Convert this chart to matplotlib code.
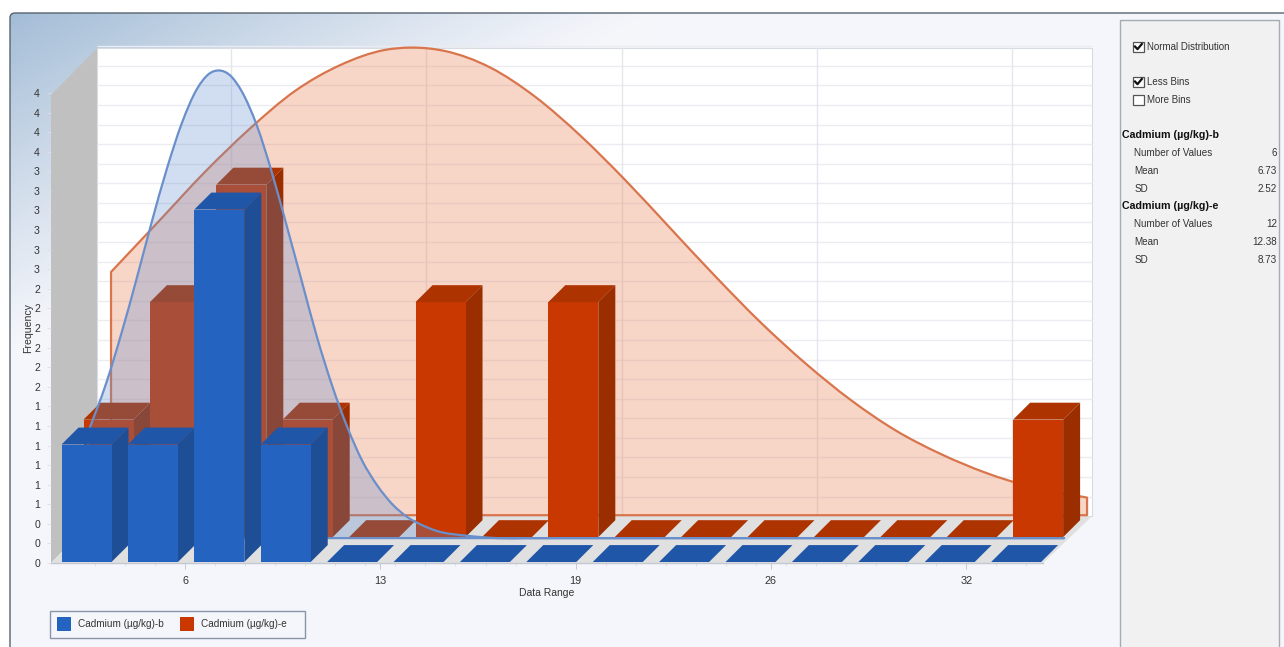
# histogram window with fake 3d bars and normal curves
import numpy as np
import matplotlib
matplotlib.use('Agg')
import matplotlib.pyplot as plt
from matplotlib.patches import Polygon, Rectangle, FancyBboxPatch, Patch, PathPatch
from matplotlib.path import Path

plt.rcParams['font.family'] = ['Liberation Sans', 'DejaVu Sans']

# data
series_names = ['Cadmium (µg/kg)-b', 'Cadmium (µg/kg)-e']
blue_counts = [1, 1, 3, 1, 0, 0, 0, 0, 0, 0, 0, 0, 0, 0, 0]
red_counts = [1, 2, 3, 1, 0, 2, 0, 2, 0, 0, 0, 0, 0, 0, 1]

x_tick_pos = [6.34, 12.84, 19.34, 25.84, 32.34]
x_tick_labels = ['6', '13', '19', '26', '32']
y_tick_labels = ['0', '0', '0', '1', '1', '1', '1', '1', '1', '2', '2', '2', '2', '2', '2',
                 '3', '3', '3', '3', '3', '3', '4', '4', '4', '4']

# normal curves (data range, frequency)
blue_curve_x = [2.38, 3.0, 3.5, 4.0, 4.5, 5.0, 5.5, 6.0, 6.4, 6.73, 7.1, 7.5, 8.0, 8.5, 9.0, 9.5, 10.0,
                10.5, 11.0, 11.5, 12.0, 12.5, 13.0, 13.5, 14.0, 15.0, 16.0, 17.0, 34.86]
blue_curve_y = [0.90, 1.33, 1.75, 2.21, 2.69, 3.14, 3.53, 3.82, 3.95, 3.98, 3.94, 3.80, 3.51, 3.11, 2.65,
                2.18, 1.71, 1.30, 0.95, 0.66, 0.45, 0.29, 0.18, 0.11, 0.06, 0.02, 0.0, 0.0, 0.0]
red_curve_x = [2.38, 4.0, 5.5, 7.0, 8.5, 10.0, 11.5, 12.38, 13.5, 15.0, 16.5, 18.0, 19.5, 21.0, 22.5,
               24.0, 25.5, 27.0, 28.5, 30.0, 31.5, 33.0, 34.86]
red_curve_y = [2.07, 2.51, 2.92, 3.29, 3.61, 3.83, 3.96, 3.98, 3.95, 3.81, 3.56, 3.23, 2.85, 2.44, 2.03,
               1.64, 1.29, 0.98, 0.72, 0.52, 0.36, 0.24, 0.15]

# side panel stats
stats_b = [('Number of Values', '6'), ('Mean', '6.73'), ('SD', '2.52')]
stats_e = [('Number of Values', '12'), ('Mean', '12.38'), ('SD', '8.73')]

# layout, pixels
W, H = 1284, 647
plot_l, plot_r, plot_b, plot_t = 51, 1043, 563, 93
x_per_px = 1 / 30.05
y_per_px = 1 / 118
wall_x, wall_y = 46, 47   # depth of the whole box
bar_depth = 17
bar_w = 50 * x_per_px
bin_w = 66.4 * x_per_px
bin_start = 2.23
x_lo = 1.88
x_hi = x_lo + (plot_r - plot_l) * x_per_px
y_hi = (plot_b - plot_t) * y_per_px

fig = plt.figure(figsize=(W / 100, H / 100), dpi=100, facecolor='white')

# chrome in pixel coords
bg = fig.add_axes([0, 0, 1, 1])
bg.set_xlim(0, W)
bg.set_ylim(H, 0)
bg.axis('off')

frame = FancyBboxPatch((10, 13), W + 40, H + 40, boxstyle='round,pad=0,rounding_size=5',
                       facecolor='none', edgecolor='#56636f', linewidth=1.0, zorder=3)
bg.add_patch(frame)
yy, xx = np.mgrid[0:1:160j, 0:1:320j]
fade = np.clip(xx * 1.0 + yy * 1.0, 0, 1)[..., None]
corner = np.array([0.64, 0.74, 0.84])
end = np.array([0.961, 0.965, 0.984])
grad = corner * (1 - fade) ** 1.1 + end * (1 - (1 - fade) ** 1.1)
im = bg.imshow(grad, extent=(10, 10 + 640, 13 + 340, 13), aspect='auto', zorder=1)
im.set_clip_path(frame)
rest = Rectangle((10, 13), W, H, facecolor='#f5f6fb', edgecolor='none', zorder=0)
bg.add_patch(rest)
rest.set_clip_path(frame)
bg.set_xlim(0, W)
bg.set_ylim(H, 0)

# right hand panel
bg.add_patch(Rectangle((1119.5, 19.5), 159, H, facecolor='#f1f1f2', edgecolor='#a4abb2', linewidth=1, zorder=4))

# legend box, the legend itself goes in it further down
bg.add_patch(Rectangle((50, 610.5), 255, 27, facecolor='#f5f6fb', edgecolor='#8894a8', linewidth=1, zorder=4))


def checkbox(y, label, checked):
    bg.add_patch(Rectangle((1133, y - 5.5), 10.5, 10.5, facecolor='white', edgecolor='#555555', linewidth=0.9, zorder=5))
    if checked:
        bg.plot([1135, 1137.5, 1141.8], [y - 0.5, y + 2.2, y - 3], color='#111111', linewidth=1.6, zorder=6)
    bg.text(1147, y, label, fontsize=7.0, color='#333333', va='center', ha='left', zorder=6)


checkbox(47, 'Normal Distribution', True)
checkbox(82, 'Less Bins', True)
checkbox(100, 'More Bins', False)


def stats_block(y, name, rows):
    bg.text(1122, y, name, fontsize=7.7, fontweight='bold', color='#111111', va='center', zorder=6)
    for i, (lab, val) in enumerate(rows):
        yr = y + 18 + 18 * i
        bg.text(1134.5, yr, lab, fontsize=7.1, color='#333333', va='center', zorder=6)
        bg.text(1277, yr, val, fontsize=7.1, color='#333333', va='center', ha='right', zorder=6)


stats_block(135, series_names[0], stats_b)
stats_block(206, series_names[1], stats_e)

# main chart, front plane of the box
ax = fig.add_axes([plot_l / W, (H - plot_b) / H, (plot_r - plot_l) / W, (plot_b - plot_t) / H])
ax.patch.set_visible(False)
ax.set_xlim(x_lo, x_hi)
ax.set_ylim(0, y_hi)
for s in ax.spines.values():
    s.set_visible(False)
ax.spines['bottom'].set_visible(True)
ax.spines['bottom'].set_color('#c4c8d0')
ax.spines['bottom'].set_linewidth(1.0)

y_ticks = [k / 6 for k in range(len(y_tick_labels))]
ax.set_yticks(y_ticks)
ax.set_yticklabels(y_tick_labels, fontsize=7.6, color='#333333')
ax.tick_params(axis='y', length=3, width=0.6, color='#dcdfe6', pad=5)
ax.set_xticks(x_tick_pos)
ax.set_xticklabels(x_tick_labels, fontsize=7.8, color='#333333')
ax.tick_params(axis='x', length=4, width=0.7, color='#c4c8d0', pad=5)
ax.set_xticks([x_tick_pos[0] + k - 3 for k in range(0, 35)
               if x_lo < x_tick_pos[0] + k - 3 < x_hi], minor=True)
ax.tick_params(axis='x', which='minor', length=2, width=0.5, color='#d4d8de')
ax.set_xlabel('Data Range', fontsize=7.5, color='#333333', labelpad=2)
ax.set_ylabel('Frequency', fontsize=7.6, color='#333333', labelpad=1)


def poly(pts, color, z):
    ax.add_patch(Polygon(pts, closed=True, facecolor=color, edgecolor='none', clip_on=False, zorder=z))


# box: left wall, back wall, floor
wx, wy = wall_x * x_per_px, wall_y * y_per_px
poly([(x_lo, 0), (x_lo + wx, wy), (x_lo + wx, y_hi + wy), (x_lo, y_hi)], '#c0c0c0', 1)
back_r = x_hi + wx + 3 * x_per_px
ax.add_patch(Rectangle((x_lo + wx, wy), back_r - x_lo - wx, y_hi, facecolor='white',
                       edgecolor='#d8dbe2', linewidth=0.8, clip_on=False, zorder=1))
poly([(x_lo, 0), (x_lo + wx, wy), (back_r, wy), (x_hi, 0)], '#e0e0e1', 1.5)
ax.hlines([t + wy for t in y_ticks[1:]], x_lo + wx, back_r, color='#ebecf1', linewidth=1.0,
          clip_on=False, zorder=1.2)
ax.vlines([t + wx for t in x_tick_pos], wy, y_hi + wy, color='#e5e6ec', linewidth=1.0,
          clip_on=False, zorder=1.2)


def smooth_verts(xs, ys):
    # bezier through the read points, so the line has no corners between them
    xs = np.asarray(xs, float)
    ys = np.asarray(ys, float)
    slope = np.gradient(ys, xs)
    verts = [(xs[0], ys[0])]
    for i in range(len(xs) - 1):
        h = (xs[i + 1] - xs[i]) / 3
        verts += [(xs[i] + h, ys[i] + slope[i] * h),
                  (xs[i + 1] - h, ys[i + 1] - slope[i + 1] * h),
                  (xs[i + 1], ys[i + 1])]
    return verts


def area(xs, ys, shift_x, shift_y, fill, line, alpha, z):
    dx, dy = shift_x * x_per_px, shift_y * y_per_px
    xs = np.asarray(xs) + dx
    ys = np.asarray(ys) + dy
    curve = smooth_verts(xs, ys)
    verts = [(xs[0], dy)] + curve + [(xs[-1], dy), (xs[0], dy)]
    codes = [Path.MOVETO, Path.LINETO] + [Path.CURVE4] * (len(curve) - 1) + [Path.LINETO, Path.LINETO]
    ax.add_patch(PathPatch(Path(verts, codes), facecolor=fill, edgecolor='none', alpha=alpha,
                           clip_on=False, zorder=z))
    ax.add_patch(PathPatch(Path(verts, codes), facecolor='none', edgecolor=line, linewidth=1.6,
                           clip_on=False, zorder=z + 0.1, joinstyle='round'))


def bar(i, h, shift_x, shift_y, front, top, side, z):
    sx, sy = shift_x * x_per_px, shift_y * y_per_px
    dx, dy = bar_depth * x_per_px, bar_depth * y_per_px
    l = bin_start + i * bin_w + sx
    r = l + bar_w
    if h > 0:
        poly([(r, sy), (r + dx, sy + dy), (r + dx, sy + h + dy), (r, sy + h)], side, z)
        poly([(l, sy), (r, sy), (r, sy + h), (l, sy + h)], front, z)
    poly([(l, sy + h), (r, sy + h), (r + dx, sy + h + dy), (l + dx, sy + h + dy)], top, z)


area(red_curve_x, red_curve_y, 45, 48, '#e9885f', '#d9754c', 0.35, 3)
for i, c in enumerate(red_counts):
    bar(i, c, 22, 26, '#c83800', '#ad3300', '#9a2e00', 4)
area(blue_curve_x, blue_curve_y, 22, 25, '#5b8ad0', '#6a8fcb', 0.28, 5)
for i, c in enumerate(blue_counts):
    bar(i, c, 0, 1, '#2563c0', '#1f56a8', '#1e4e96', 6)

# legend
handles = [Patch(facecolor='#2563c0', edgecolor='none'), Patch(facecolor='#c83800', edgecolor='none')]
leg = fig.legend(handles, series_names, ncol=2, loc='upper left',
                 bbox_to_anchor=(57 / W, (H - 616.5) / H), borderaxespad=0, borderpad=0, fontsize=7.2,
                 frameon=False, handlelength=1.4, handleheight=1.9,
                 columnspacing=1.6, handletextpad=0.7, labelcolor='#333333')

fig.savefig('out.png', dpi=100)
